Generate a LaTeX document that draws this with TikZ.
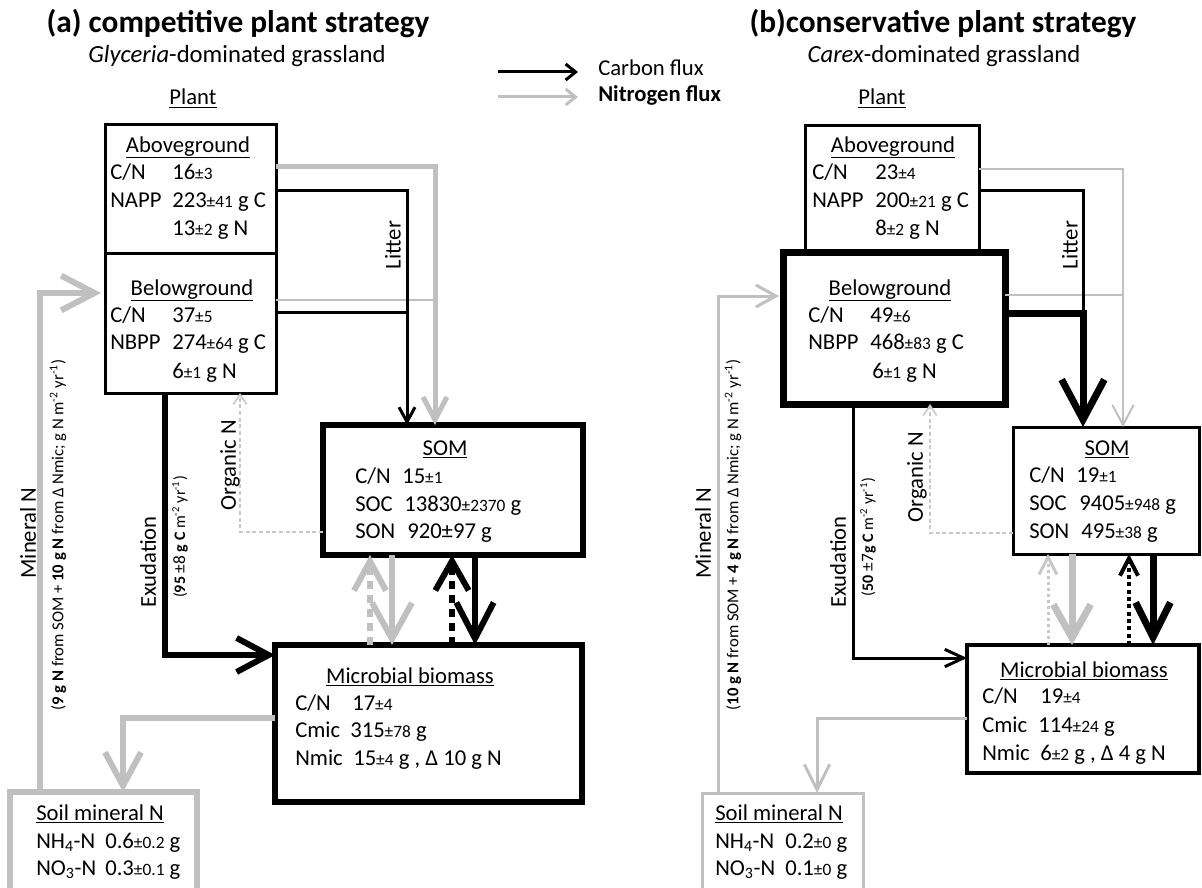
\documentclass[tikz,border=0pt]{standalone}
\usepackage{fontspec}
\setmainfont{Carlito}
\usetikzlibrary{arrows.meta}
\definecolor{ngray}{RGB}{192,192,192}
\definecolor{lgray}{RGB}{200,200,200}
\newcommand\fmain{\fontsize{17pt}{19pt}\selectfont}
\newcommand\fsmall{\fontsize{13pt}{14pt}\selectfont}
\newcommand\smn[1]{{\fsmall #1}}
\newcommand\bx[6]{\node[#6, minimum width={(#4-#2)*0.75pt}, minimum height={(#5-#3)*0.75pt}] (#1) at ({(#2+#4)/2},{(#3+#5)/2}) {};}
\tikzset{
  box/.style={draw, rectangle, inner sep=0pt, outer sep=0pt},
  tx/.style={anchor=base west, inner sep=0pt, font=\fmain},
  hd/.style={anchor=base, inner sep=0pt, font=\fmain},
  rot/.style={rotate=90, inner sep=0pt, font=\fmain},
  rots/.style={rotate=90, inner sep=0pt, font=\fontsize{12.5pt}{15pt}\selectfont},
  rotx/.style={rotate=90, inner sep=0pt, font=\fontsize{12pt}{14pt}\selectfont},
  tLeg/.tip={Straight Barb[length=7.5pt,width=12pt]},
  tExL/.tip={Straight Barb[length=24pt,width=25.5pt]},
  tLitL/.tip={Straight Barb[length=11pt,width=12pt]},
  tGLitL/.tip={Straight Barb[length=17pt,width=18pt]},
  tGUpL/.tip={Straight Barb[length=22pt,width=24pt]},
  tGDnL/.tip={Straight Barb[length=27pt,width=30pt]},
  tBUpL/.tip={Straight Barb[length=22pt,width=25pt]},
  tBDnL/.tip={Straight Barb[length=27pt,width=28pt]},
  tMinL/.tip={Straight Barb[length=25pt,width=26pt]},
  tMsL/.tip={Straight Barb[length=25pt,width=27pt]},
  tOrg/.tip={Straight Barb[length=7.5pt,width=10pt]},
  tLitR/.tip={Straight Barb[length=30pt,width=32pt]},
  tGLitR/.tip={Straight Barb[length=15pt,width=16pt]},
  tGUpR/.tip={Straight Barb[length=13pt,width=13.5pt]},
  tGDnR/.tip={Straight Barb[length=25pt,width=28pt]},
  tBUpR/.tip={Straight Barb[length=13pt,width=13.5pt]},
  tBDnR/.tip={Straight Barb[length=26pt,width=26pt]},
  tExR/.tip={Straight Barb[length=14pt,width=13pt]},
  tMinR/.tip={Straight Barb[length=15pt,width=16.5pt]},
  tMsR/.tip={Straight Barb[length=19pt,width=19pt]},
}
\begin{document}
\begin{tikzpicture}[x=0.75pt,y=-0.75pt]
\useasboundingbox (0,0) rectangle (1202,888);
% ---------------- titles and legend
\node[anchor=base, inner sep=0pt, font=\fontsize{23.5pt}{26pt}\selectfont\bfseries] (titA) at (238,33) {(a) competitive plant strategy};
\node[anchor=base, inner sep=0pt, font=\fontsize{18.5pt}{20pt}\selectfont] (subA) at (237,63) {\textit{Glyceria}-dominated grassland};
\node[hd] (plA) at (193,105) {\underline{Plant}};
\node[anchor=base, inner sep=0pt, font=\fontsize{23.5pt}{26pt}\selectfont\bfseries] (titB) at (943,33) {(b)conservative plant strategy};
\node[anchor=base, inner sep=0pt, font=\fontsize{18.5pt}{20pt}\selectfont] (subB) at (944,63) {\textit{Carex}-dominated grassland};
\node[hd] (plB) at (882,105) {\underline{Plant}};
\coordinate (lgC1) at (498,72); \coordinate (lgC2) at (578,72);
\coordinate (lgN1) at (498,97); \coordinate (lgN2) at (578,97);
\draw[line width=2.25pt, -{tLeg}] (lgC1) -- (lgC2);
\draw[ngray, line width=2.25pt, -{tLeg}] (lgN1) -- (lgN2);
\node[tx] (lgCt) at (598,76) {Carbon flux};
\node[tx, font=\fmain\bfseries] (lgNt) at (598,102) {Nitrogen flux};
% ================= PANEL A =================
\bx{agL}{105}{125}{276}{253}{box, line width=2.25pt}
\bx{bgL}{105}{253}{276}{393}{box, line width=2.25pt}
\bx{somL}{323}{425}{583}{555}{box, line width=4.5pt}
\bx{micL}{275}{645}{582}{802}{box, line width=4.5pt}
\bx{soilL}{10}{792}{197}{900}{box, draw=ngray, line width=4pt}
% nitrogen litter
\coordinate (jgL) at (435,300);
\draw[ngray, line width=3.75pt, -{tGLitL}] (agL.east |- 0,167) -| (435,0 |- somL.north);
\draw[ngray, line width=1.5pt] (bgL.east |- 0,300) -- (jgL);
% carbon litter
\coordinate (jbL) at (407,312);
\draw[line width=2.25pt] (agL.east |- 0,190) -| (jbL);
\draw[line width=2.25pt, -{tLitL}] (bgL.east |- 0,312) -| (407,0 |- somL.north);
% exudation
\draw[line width=4.5pt, -{tExL}] (165,0 |- bgL.south) |- (micL.west |- 0,655);
% organic N
\draw[lgray, line width=1.2pt, dash pattern=on 3pt off 2pt, -{tOrg}] (somL.west |- 0,532) -| (240,0 |- bgL.south);
% SOM <-> microbes
\draw[ngray, line width=4.5pt, dash pattern=on 6pt off 4.5pt, -{tGUpL}] (370,0 |- micL.north) -- (370,0 |- somL.south);
\draw[ngray, line width=4.5pt, -{tGDnL}] (392,0 |- somL.south) -- (392,0 |- micL.north);
\draw[line width=4.5pt, dash pattern=on 6pt off 4.5pt, -{tBUpL}] (452,0 |- micL.north) -- (452,0 |- somL.south);
\draw[line width=4.5pt, -{tBDnL}] (475,0 |- somL.south) -- (475,0 |- micL.north);
% mineral N
\draw[ngray, line width=4.5pt, shorten >=3pt, -{tMinL}] (40,0 |- soilL.north) |- (bgL.west |- 0,293);
\draw[ngray, line width=4.5pt, -{tMsL}] (micL.west |- 0,718) -| (123,0 |- soilL.north);
% texts A
\node[hd] (aLh) at (188,152) {\underline{Aboveground}};
\node[tx] (aL1a) at (110,180) {C/N}; \node[tx] (aL1b) at (172,180) {16\smn{±3}};
\node[tx] (aL2a) at (110,207) {NAPP}; \node[tx] (aL2b) at (172,207) {223\smn{±41} g C};
\node[tx] (aL3b) at (172,235) {13\smn{±2} g N};
\node[hd] (bLh) at (192,295) {\underline{Belowground}};
\node[tx] (bL1a) at (110,322) {C/N}; \node[tx] (bL1b) at (172,322) {37\smn{±5}};
\node[tx] (bL2a) at (110,349) {NBPP}; \node[tx] (bL2b) at (172,349) {274\smn{±64} g C};
\node[tx] (bL3b) at (172,378) {6\smn{±1} g N};
\node[hd] (sLh) at (445,455) {\underline{SOM}};
\node[tx] (sL1a) at (355,483) {C/N}; \node[tx] (sL1b) at (402,483) {15\smn{±1}};
\node[tx] (sL2a) at (355,511) {SOC}; \node[tx] (sL2b) at (404,511) {13830\smn{±2370} g};
\node[tx] (sL3a) at (355,538) {SON}; \node[tx] (sL3b) at (407,538) {920±97 g};
\node[hd] (mLh) at (410,683) {\underline{Microbial biomass}};
\node[tx] (mL1a) at (295,710) {C/N}; \node[tx] (mL1b) at (352,710) {17\smn{±4}};
\node[tx] (mL2a) at (295,737) {Cmic}; \node[tx] (mL2b) at (350,737) {315\smn{±78} g};
\node[tx] (mL3a) at (295,765) {Nmic}; \node[tx] (mL3b) at (353,765) {15\smn{±4} g , Δ 10 g N};
\node[tx] (oLh) at (36,820) {\underline{Soil mineral N}};
\node[tx] (oL1a) at (36,848) {NH\textsubscript{4}-N}; \node[tx] (oL1b) at (105,848) {0.6\smn{±0.2} g};
\node[tx] (oL2a) at (36,875) {NO\textsubscript{3}-N}; \node[tx] (oL2b) at (105,875) {0.3\smn{±0.1} g};
\node[rot] (litL) at (393,245) {Litter};
\node[rot] (orgL) at (230,465) {Organic N};
\node[rot] (exL) at (148,562) {Exudation};
\node[rotx] (exvL) at (180,537) {(\textbf{95} \smn{±8} \textbf{g C} m\textsuperscript{-2} yr\textsuperscript{-1})};
\node[rot] (minL) at (28,533) {Mineral N};
\node[rots] (minvL) at (58,535) {(\textbf{9 g N} from SOM + \textbf{10 g N} from Δ Nmic; g N m\textsuperscript{-2} yr\textsuperscript{-1})};
% ================= PANEL B =================
\bx{agR}{805}{126}{979}{252}{box, line width=2.25pt}
\bx{bgR}{783}{252}{1005}{404}{box, line width=5.25pt}
\bx{somR}{1013}{427}{1199}{554}{box, line width=2.25pt}
\bx{micR}{967}{645}{1199}{773}{box, line width=3pt}
\bx{soilR}{702}{793}{863}{900}{box, draw=ngray, line width=2.25pt}
% nitrogen litter
\coordinate (jgR) at (1123,295);
\draw[ngray, line width=1.5pt, -{tGLitR}] (agR.east |- 0,169) -| (1123,0 |- somR.north);
\draw[ngray, line width=1.5pt] (bgR.east |- 0,295) -- (jgR);
% carbon litter
\coordinate (jbR) at (1083,313);
\draw[line width=2.25pt] (agR.east |- 0,190) -| (jbR);
\draw[line width=5.25pt, -{tLitR}] (bgR.east |- 0,313) -| (1083,0 |- somR.north);
% exudation
\draw[line width=2.25pt, -{tExR}] (853,0 |- bgR.south) |- (micR.west |- 0,658);
% organic N
\draw[lgray, line width=1.2pt, dash pattern=on 3pt off 2pt, -{tOrg}] (somR.west |- 0,533) -| (930,0 |- bgR.south);
% SOM <-> microbes
\draw[lgray, line width=2.25pt, dash pattern=on 2.5pt off 2pt, -{tGUpR}] (1048,0 |- micR.north) -- (1048,0 |- somR.south);
\draw[ngray, line width=5.25pt, -{tGDnR}] (1072,0 |- somR.south) -- (1072,0 |- micR.north);
\draw[line width=3pt, dash pattern=on 3pt off 2.5pt, -{tBUpR}] (1129,0 |- micR.north) -- (1129,0 |- somR.south);
\draw[line width=5.25pt, -{tBDnR}] (1153,0 |- somR.south) -- (1153,0 |- micR.north);
% mineral N
\draw[ngray, line width=2.25pt, shorten >=3pt, -{tMinR}] (718,0 |- soilR.north) |- (bgR.west |- 0,296);
\draw[ngray, line width=2.25pt, -{tMsR}] (micR.west |- 0,718) -| (817,0 |- soilR.north);
% texts B
\node[hd] (aRh) at (893,152) {\underline{Aboveground}};
\node[tx] (aR1a) at (812,180) {C/N}; \node[tx] (aR1b) at (875,180) {23\smn{±4}};
\node[tx] (aR2a) at (812,207) {NAPP}; \node[tx] (aR2b) at (875,207) {200\smn{±21} g C};
\node[tx] (aR3b) at (875,235) {8\smn{±2} g N};
\node[hd] (bRh) at (890,295) {\underline{Belowground}};
\node[tx] (bR1a) at (808,322) {C/N}; \node[tx] (bR1b) at (870,322) {49\smn{±6}};
\node[tx] (bR2a) at (808,349) {NBPP}; \node[tx] (bR2b) at (870,349) {468\smn{±83} g C};
\node[tx] (bR3b) at (872,378) {6\smn{±1} g N};
\node[hd] (sRh) at (1107,455) {\underline{SOM}};
\node[tx] (sR1a) at (1029,482) {C/N}; \node[tx] (sR1b) at (1076,482) {19\smn{±1}};
\node[tx] (sR2a) at (1029,510) {SOC}; \node[tx] (sR2b) at (1079,510) {9405\smn{±948} g};
\node[tx] (sR3a) at (1029,538) {SON}; \node[tx] (sR3b) at (1081,538) {495\smn{±38} g};
\node[hd] (mRh) at (1084,677) {\underline{Microbial biomass}};
\node[tx] (mR1a) at (982,703) {C/N}; \node[tx] (mR1b) at (1040,703) {19\smn{±4}};
\node[tx] (mR2a) at (982,732) {Cmic}; \node[tx] (mR2b) at (1038,732) {114\smn{±24} g};
\node[tx] (mR3a) at (982,760) {Nmic}; \node[tx] (mR3b) at (1040,760) {6\smn{±2} g , Δ 4 g N};
\node[tx] (oRh) at (715,820) {\underline{Soil mineral N}};
\node[tx] (oR1a) at (715,848) {NH\textsubscript{4}-N}; \node[tx] (oR1b) at (785,848) {0.2\smn{±0} g};
\node[tx] (oR2a) at (715,875) {NO\textsubscript{3}-N}; \node[tx] (oR2b) at (785,875) {0.1\smn{±0} g};
\node[rot] (litR) at (1070,245) {Litter};
\node[rot] (orgR) at (917,477) {Organic N};
\node[rot] (exR) at (838,562) {Exudation};
\node[rotx] (exvR) at (868,537) {(\textbf{50} \smn{±7}\textbf{g C} m\textsuperscript{-2} yr\textsuperscript{-1})};
\node[rot] (minR) at (703,533) {Mineral N};
\node[rots] (minvR) at (733,535) {(\textbf{10 g N} from SOM + \textbf{4 g N} from Δ Nmic; g N m\textsuperscript{-2} yr\textsuperscript{-1})};
\end{tikzpicture}
\end{document}
